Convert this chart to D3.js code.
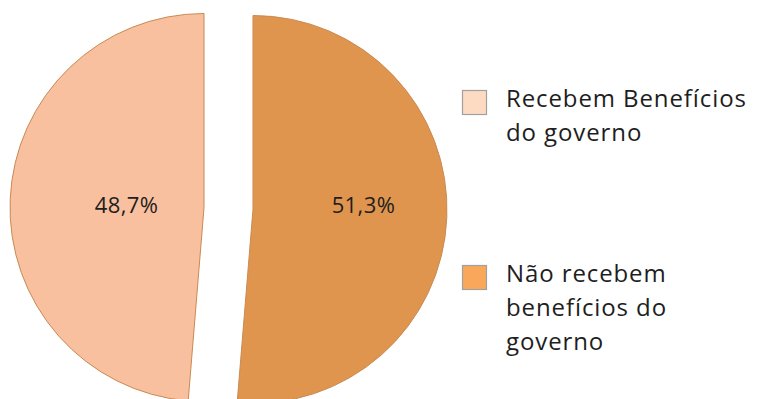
<!DOCTYPE html>
<html>
<head>
<meta charset="utf-8">
<script src="https://cdn.jsdelivr.net/npm/d3@7"></script>
<style>
  body { margin: 0; background: #fff; }
  svg { display: block; }
  text { font-family: "Open Sans", "DejaVu Sans", sans-serif; fill: #1e1e1e; }
</style>
</head>
<body>
<div id="chart"></div>
<script>
// dados do gráfico
const categories = ['Recebem Benefícios do governo', 'Não recebem benefícios do governo'];
const values = [48.7, 51.3];
const valueLabels = ['48,7%', '51,3%'];
const legendLines = [['Recebem Benefícios', 'do governo'], ['Não recebem', 'benefícios do', 'governo']];

const sliceColors = ['#f9c09f', '#e0954f'];
const swatchColors = ['#fddbc3', '#f9a85b'];

window.onload = () => {
    const width = 757;
    const height = 399;

    const cx = 228.5, cy = 208.5;
    const radius = 194;
    const explode = 24.5;
    const labelFactor = [0.40, 0.57]; // posição dos rótulos (fração do raio)

    const svg = d3.select('#chart')
        .append('svg')
        .attr('width', width)
        .attr('height', height);

    // a fatia "Recebem" termina às 12 horas
    const start = -(values[0] / d3.sum(values)) * 2 * Math.PI;
    const pie = d3.pie().sort(null).startAngle(start).endAngle(start + 2 * Math.PI);
    const arcs = pie(values);

    const arc = d3.arc().innerRadius(0).outerRadius(radius);
    const mid = d => (d.startAngle + d.endAngle) / 2;

    svg.selectAll('.slice')
        .data(arcs)
        .enter()
        .append('path')
        .attr('class', 'slice')
        .attr('transform', d => `translate(${cx + Math.sin(mid(d)) * explode},${cy - Math.cos(mid(d)) * explode})`)
        .attr('d', arc)
        .attr('fill', (d, i) => sliceColors[i])
        .attr('stroke', '#c98a52')
        .attr('stroke-width', 1);

    // rótulos de valor
    svg.selectAll('.value')
        .data(arcs)
        .enter()
        .append('text')
        .attr('class', 'value')
        .attr('x', (d, i) => cx + Math.sin(mid(d)) * (explode + radius * labelFactor[i]))
        .attr('y', cy + 4)
        .attr('text-anchor', 'middle')
        .style('font-size', '22px')
        .style('letter-spacing', '0.4px')
        .text((d, i) => valueLabels[i]);

    // legenda
    const legendX = 462;
    const legendTop = [90, 265];
    const lineH = 34;

    const legend = svg.selectAll('.legend')
        .data(categories)
        .enter()
        .append('g')
        .attr('class', 'legend')
        .attr('transform', (d, i) => `translate(${legendX},${legendTop[i]})`);

    legend.append('rect')
        .attr('x', 0.5)
        .attr('y', 0.5)
        .attr('width', 24)
        .attr('height', 24)
        .attr('fill', (d, i) => swatchColors[i])
        .attr('stroke', '#a0a0a0')
        .attr('stroke-width', 1.2);

    legend.append('text')
        .attr('x', 44)
        .attr('y', 16.5)
        .style('font-size', '24px')
        .style('letter-spacing', '0.9px')
        .selectAll('tspan')
        .data((d, i) => legendLines[i])
        .enter()
        .append('tspan')
        .attr('x', 44)
        .attr('dy', (d, j) => j === 0 ? 0 : lineH)
        .text(d => d);
};
</script>
</body>
</html>
